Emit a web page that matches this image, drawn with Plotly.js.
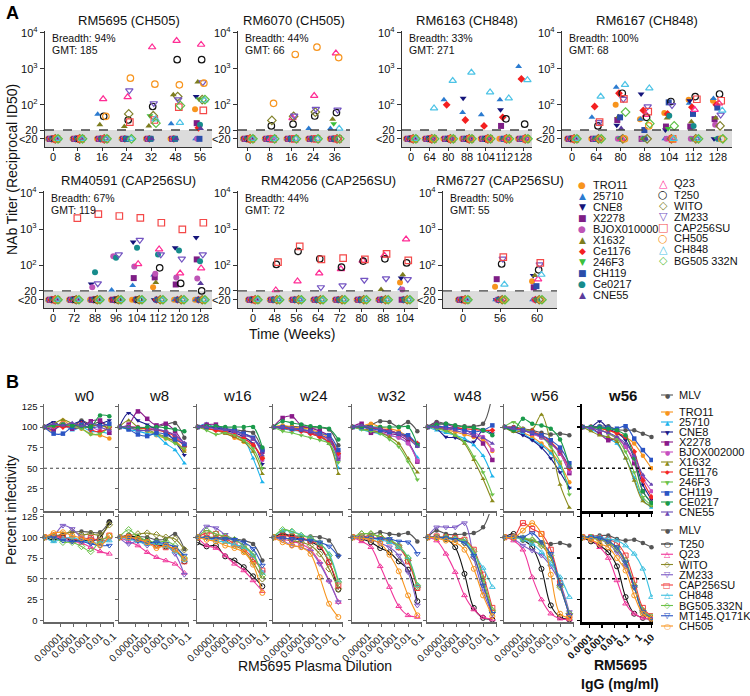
<!DOCTYPE html>
<html><head><meta charset="utf-8">
<script src="https://cdn.plot.ly/plotly-3.0.1.min.js"></script>
<style>body{margin:0;background:#fff}#chart{width:750px;height:696px}</style>
</head><body><div id="chart"></div>
<script>
const W = 750, H = 696;
const FONT = 'Liberation Sans, Arial, Helvetica, sans-serif';

// ================= PANEL A DATA =================
const virusesA = ['TRO11','25710','CNE8','X2278','BJOX010000','X1632','Ce1176','246F3','CH119','Ce0217','CNE55','Q23','T250','WITO','ZM233','CAP256SU','CH505','CH848','BG505 332N'];
const animalNames = ['RM5695 (CH505)','RM6070 (CH505)','RM6163 (CH848)','RM6167 (CH848)','RM40591 (CAP256SU)','RM42056 (CAP256SU)','RM6727 (CAP256SU)'];
const breadthA = ['94%','44%','33%','100%','67%','44%','50%'];
const gmtA = ['185','66','271','68','119','72','55'];

// titers: one row per virus (virusesA order), one column per week; 0 = <20
const weeksRM5695 = [0,8,16,24,32,48,56];
const titerRM5695 = [
 [0,0,0,0,0,0,75],[0,0,55,0,0,30,0],[0,0,0,0,0,0,170],[0,0,0,0,0,0,31],[0,0,0,0,0,0,0],
 [0,0,28,25,26,190,430],[0,0,0,0,0,0,23],[0,0,0,0,50,0,145],[0,0,0,0,0,0,0],[0,0,0,0,0,0,28],
 [0,0,0,0,0,0,22],[0,0,145,165,4000,6000,4700],[0,0,48,38,90,1800,1800],[0,0,0,56,50,170,140],
 [0,0,0,250,110,140,420],[0,0,0,33,38,87,70],[0,0,48,550,375,360,400],[0,0,0,0,40,32,135],[0,0,0,0,31,95,140]];
const weeksRM6070 = [0,8,16,24,36];
const titerRM6070 = [
 [0,0,0,0,0],[0,0,0,22,22],[0,0,0,0,0],[0,0,0,0,0],[0,0,0,0,0],
 [0,0,0,0,40],[0,0,0,0,0],[0,0,0,0,30],[0,0,0,0,0],[0,0,0,0,0],
 [0,0,0,0,0],[0,0,43,178,2700],[0,26,29,49,61],[0,37,48,63,0],
 [0,0,50,77,73],[0,0,0,0,0],[0,110,2500,4000,2050],[0,0,0,0,22],[0,0,0,0,0]];
const weeksRM6163 = [0,64,80,88,104,112,128];
const titerRM6163 = [
 [0,0,0,0,0,0,0],[0,0,138,61,53,138,1160],[0,0,0,153,0,73,0],[0,0,0,0,0,26,0],[0,0,0,0,0,0,0],
 [0,0,0,0,0,0,0],[0,0,100,38,26,45,525],[0,0,0,0,0,0,0],[0,0,0,0,0,0,0],[0,0,0,0,0,0,0],
 [0,0,0,0,0,0,0],[0,0,0,0,0,0,0],[0,0,0,0,0,41,29],[0,0,0,0,0,0,0],
 [0,0,0,0,0,0,0],[0,0,0,0,0,0,0],[0,0,0,0,0,0,0],[0,81,465,790,225,153,490],[0,0,0,0,0,0,0]];
const weeksRM6167 = [0,64,80,88,104,112,128];
const titerRM6167 = [
 [0,0,100,40,59,138,130],[0,45,310,40,0,110,150],[0,0,27,200,20,130,0],[0,0,38,0,25,25,40],[0,0,0,0,0,0,28],
 [0,0,47,0,43,34,43],[0,90,210,70,56,86,100],[0,0,0,0,22,0,0],[0,0,45,20,117,56,84],[0,0,0,0,50,26,0],
 [0,0,22,0,0,0,0],[0,0,0,53,0,73,110],[0,26,210,45,124,170,200],[0,0,0,0,0,0,26],
 [0,33,145,90,97,0,53],[0,33,147,65,0,143,130],[0,0,0,26,0,0,0],[0,170,360,290,0,0,70],[0,0,63,30,26,0,0]];
const weeksRM40591 = [0,72,88,96,104,112,120,128];
const titerRM40591 = [
 [0,0,0,0,0,25,0,0],[0,0,0,21,28,55,0,0],[0,0,31,0,440,0,310,590],[0,0,0,0,45,47,30,147],[0,0,25,180,94,59,47,44],
 [0,0,0,0,0,34,0,0],[0,0,0,0,0,0,0,0],[0,0,0,0,0,0,0,0],[0,0,0,0,0,0,0,0],[0,0,65,163,310,200,260,130],
 [0,0,0,0,0,0,0,32],[0,0,0,0,110,280,61,84],[0,0,0,0,0,86,32,20],[0,0,0,0,0,0,0,0],
 [0,0,32,200,500,200,153,200],[0,2000,2600,2300,2050,1500,980,1500],[0,0,0,0,0,0,0,0],[0,0,0,0,0,0,0,0],[0,0,0,0,0,0,0,0]];
const weeksRM42056 = [0,48,56,64,72,80,88,104];
const titerRM42056 = [
 [0,0,0,0,0,0,0,34],[0,0,0,0,0,0,0,23],[0,0,0,0,0,0,0,45],[0,0,0,0,0,0,0,0],[0,0,0,0,0,0,0,22],
 [0,0,0,0,0,0,22,56],[0,0,0,0,0,0,0,0],[0,0,0,0,0,0,0,0],[0,0,0,0,0,0,0,0],[0,0,0,0,0,0,0,0],
 [0,0,0,0,0,0,0,0],[0,21,37,61,80,138,190,525],[0,107,245,153,90,132,153,118],[0,0,0,0,0,0,0,0],
 [0,0,0,25,28,40,44,42],[0,124,335,147,160,147,210,138],[0,0,0,0,0,0,0,0],[0,0,0,0,0,0,0,0],[0,0,0,0,0,0,0,0]];
const weeksRM6727 = [0,56,60];
const titerRM6727 = [
 [0,26,37],[0,0,0],[0,0,53],[0,42,25],[0,0,0],
 [0,0,53],[0,0,0],[0,0,0],[0,0,27],[0,0,0],
 [0,0,0],[0,0,42],[0,110,76],[0,0,0],
 [0,153,107],[0,170,118],[0,0,0],[0,30,56],[0,0,0]];

// ================= PANEL B DATA =================
const dilution = [6.4e-7, 3.2e-6, 1.6e-5, 8e-5, 4e-4, 2e-3, 1e-2, 5e-2];
const iggConc = [2.56e-5, 1.28e-4, 6.4e-4, 3.2e-3, 0.016, 0.08, 0.4, 2, 10];
const dilTicks = [1e-5, 1e-4, 1e-3, 1e-2, 0.1];
const dilTickText = ['0.00001','0.0001','0.001','0.01','0.1'];
const iggTicks = [1e-4, 1e-3, 1e-2, 0.1, 1, 10];
const iggTickText = ['0.0001','0.001','0.01','0.1','1','10'];
const weekTitlesB = ['w0','w8','w16','w24','w32','w48','w56','w56'];
const virusesB1 = ['MLV','TRO11','25710','CNE8','X2278','BJOX002000','X1632','CE1176','246F3','CH119','CE0217','CNE55'];
const virusesB2 = ['MLV','T250','Q23','WITO','ZM233','CAP256SU','CH848','BG505.332N','MT145.Q171K','CH505'];

// percent infectivity, rows in virusesB1 order
const topW0 = [[100,100,105,100,108,103,106,100],[100,95,108,100,98,92,90,86],[100,97,103,96,100,95,94,92],[100,106,100,103,107,101,104,108],
 [100,97,103,98,100,107,108,93],[100,100,104,101,101,100,96,97],[100,104,109,104,99,101,102,98],[100,101,100,101,104,97,94,100],
 [100,101,104,100,98,91,92,100],[100,92,92,100,103,99,101,104],[100,102,103,102,101,100,114,113],[100,104,102,105,101,105,100,96]];
const topW8 = [[100,100,99,98,100,103,105,87],[100,99,97,95,90,86,83,72],[100,97,95,92,90,80,72,56],[100,117,108,103,97,94,82,66],
 [100,103,119,110,102,104,95,78],[100,101,100,99,97,95,90,77],[100,108,100,97,92,88,82,70],[100,100,99,98,96,94,88,76],
 [100,99,97,95,92,86,80,74],[100,97,91,89,93,91,85,79],[100,100,99,100,100,99,97,95],[100,100,96,96,97,95,90,81]];
const topW16 = [[100,100,99,98,97,95,93,72],[100,101,98,93,87,82,78,63],[100,104,98,95,90,85,62,33],[100,100,99,96,93,88,80,55],
 [100,103,103,97,95,92,86,70],[100,99,97,95,91,86,78,60],[100,98,96,92,88,82,70,43],[100,98,96,94,90,86,78,62],
 [100,96,91,93,90,84,74,50],[100,100,100,98,96,92,87,72],[100,101,101,100,100,100,100,75],[100,100,98,97,95,90,86,66]];
const topW24 = [[100,100,101,100,99,99,97,78],[100,102,100,99,97,93,87,70],[100,98,96,95,92,88,80,50],[100,98,98,97,93,90,85,66],
 [100,111,113,102,99,95,89,63],[100,99,98,96,94,90,84,65],[100,100,99,97,95,90,80,43],[100,99,97,95,92,88,82,68],
 [100,95,93,90,87,84,80,57],[100,100,98,97,95,92,90,72],[100,107,105,103,101,100,98,85],[100,100,99,97,95,91,85,60]];
const topW32 = [[100,100,103,107,106,100,106,95],[100,101,104,100,98,95,88,77],[100,97,94,92,90,87,80,63],[100,100,99,97,95,92,88,80],
 [100,104,93,95,92,90,82,58],[100,100,97,94,90,87,80,59],[100,98,96,93,88,80,62,45],[100,100,99,98,96,92,87,80],
 [100,97,95,92,85,76,58,36],[100,100,98,96,94,92,90,78],[100,101,100,100,100,100,100,78],[100,102,100,98,95,92,86,76]];
const topW48 = [[100,106,104,102,101,101,104,140],[100,99,97,94,91,88,85,71],[100,96,93,90,86,78,65,40],[100,98,88,87,83,82,96,92],
 [100,104,103,100,97,90,80,60],[100,102,99,98,96,93,88,72],[100,99,96,90,80,60,37,10],[100,100,99,99,98,97,96,96],
 [100,98,95,90,82,64,45,18],[100,101,100,98,96,94,96,102],[100,103,104,102,100,99,96,90],[100,100,98,96,93,90,87,80]];
const topW56 = [[100,100,98,96,93,91,92,90],[100,98,93,88,80,70,55,33],[100,97,92,85,78,68,52,26],[100,95,90,84,75,62,45,26],
 [100,98,96,92,88,80,68,44],[100,99,96,92,87,80,68,46],[100,94,96,97,115,80,30,2],[100,99,97,95,90,82,70,50],
 [100,106,98,94,88,76,58,18],[100,98,96,93,90,84,75,56],[100,96,110,104,102,98,85,52],[100,98,96,93,88,80,70,52]];
const topIgG = [[100,100,101,101,97,96,96,92,88],[100,100,98,96,92,88,80,65,50],[100,97,92,86,80,62,38,12,2],[100,100,107,98,93,84,62,30,12],
 [100,99,92,84,86,76,56,22,8],[100,99,97,92,86,76,60,38,22],[100,95,90,88,82,62,35,10,4],[100,100,99,96,93,88,70,35,15],
 [100,99,97,92,86,70,45,15,5],[100,100,100,99,98,101,86,72,60],[100,100,99,98,96,90,62,22,8],[100,99,96,93,88,80,65,42,30]];
// rows in virusesB2 order
const botW0 = [[100,100,104,106,107,106,106,119],[100,97,100,96,97,95,100,118],[100,101,98,95,93,88,83,80],[100,102,103,107,103,104,103,115],
 [100,102,114,110,100,98,95,98],[100,102,100,98,97,99,96,102],[100,95,98,100,96,94,93,96],[100,100,94,94,89,83,96,101],
 [100,100,96,95,95,92,90,90],[100,105,106,102,99,96,90,102]];
const botW8 = [[100,100,101,100,97,98,104,86],[100,102,99,96,91,89,85,71],[100,95,90,82,76,72,68,57],[100,102,104,105,103,100,98,85],
 [100,92,96,90,93,90,80,55],[100,100,97,94,90,88,86,71],[100,98,95,92,93,89,83,72],[100,109,100,96,94,95,90,75],
 [100,99,96,93,94,92,88,78],[100,100,98,94,87,90,85,74]];
const botW16 = [[100,100,100,99,98,96,92,72],[94,89,90,77,72,64,53,41],[100,90,87,78,68,60,48,35],[100,100,99,96,90,84,70,50],
 [100,113,111,103,97,90,78,58],[100,105,104,99,92,86,74,60],[100,99,96,94,91,88,78,57],[100,108,104,101,97,90,80,54],
 [100,99,98,98,97,94,86,66],[100,97,95,90,87,82,67,33]];
const botW24 = [[100,104,102,101,101,100,96,78],[100,104,100,98,95,88,70,37],[100,98,95,92,85,70,48,22],[100,100,96,94,90,80,62,38],
 [100,96,90,88,83,68,47,22],[100,102,101,99,96,90,70,42],[100,108,107,103,99,93,80,48],[100,109,107,102,99,93,78,46],
 [100,99,98,97,96,94,89,77],[100,94,90,88,80,52,20,4]];
const botW32 = [[100,100,103,106,104,103,105,95],[100,98,94,87,82,71,61,23],[100,95,88,65,40,17,6,4],[100,104,104,101,97,88,72,40],
 [100,99,97,93,88,78,58,18],[100,101,100,98,95,88,71,39],[100,100,99,97,94,88,76,42],[100,104,104,100,97,90,75,42],
 [100,100,99,98,98,95,94,80],[100,99,97,93,79,59,30,6]];
const botW48 = [[100,108,104,103,104,105,112,140],[100,100,98,88,56,15,3,1],[100,96,80,58,30,13,4,1],[100,100,99,97,93,76,45,10],
 [100,112,112,112,117,75,35,8],[100,101,100,99,97,85,55,15],[100,100,99,98,95,80,63,40],[100,100,100,98,96,83,50,12],
 [100,100,99,97,93,78,42,8],[100,99,96,94,85,62,30,5]];
const botW56 = [[100,100,98,95,94,92,93,90],[100,104,97,88,62,18,4,1],[100,96,85,52,25,8,2,1],[100,100,98,96,90,75,40,8],
 [100,98,90,84,78,65,45,10],[100,100,117,110,104,85,45,5],[100,100,97,92,82,68,52,28],[100,100,99,97,92,78,42,8],
 [100,101,100,105,94,80,42,6],[100,100,108,117,104,55,8,3]];
const botIgG = [[100,101,102,102,98,96,97,93,88],[100,95,90,82,65,28,8,3,1],[100,97,88,75,48,20,8,3,2],[100,99,97,93,85,68,40,10,3],
 [100,100,98,92,82,65,40,12,3],[100,100,99,97,93,78,48,15,5],[100,100,100,98,96,90,80,62,28],[100,100,98,94,87,72,42,12,4],
 [100,100,99,95,88,70,40,10,3],[100,97,92,88,75,60,30,8,2]];

// ================= STYLES =================
const symA = ['circle','triangle-up','triangle-down','square','circle','triangle-up','diamond','triangle-down','square','circle','triangle-up',
  'triangle-up-open','circle-open','diamond-open','triangle-down-open','square-open','circle-open','triangle-up-open','diamond-open'];
const colA = ['#F7941D','#2B7BD0','#14147A','#7E1E86','#BE55B6','#7D7D1E','#F42020','#3CC03C','#2A4DAA','#168C8C','#5A3C9C',
  '#FF2D95','#111111','#80802A','#7455C2','#F44848','#F7941D','#4CC3E6','#5CBF45'];
const symB1 = ['circle','circle','triangle-up','triangle-down','square','circle','triangle-up','diamond','triangle-down','square','circle','triangle-up'];
const colB1 = ['#555555','#F7941D','#1DB3EC','#1A1A8A','#8A1A8A','#C64FC0','#8A8A1A','#F42525','#6CC24A','#2B55C4','#1A9A4A','#6B49B3'];
const symB2 = ['circle','circle-open','triangle-up-open','diamond-open','triangle-down-open','square-open','triangle-up-open','diamond-open','triangle-down-open','circle-open'];
const colB2 = ['#555555','#111111','#F0359A','#8A8A2A','#7E5CC6','#F03C3C','#3CC0E0','#6BC24A','#2B55C4','#F7941D'];
const glyph = {'circle':'●','triangle-up':'▲','triangle-down':'▼','square':'■','diamond':'◆','circle-open':'○',
  'triangle-up-open':'△','triangle-down-open':'▽','square-open':'□','diamond-open':'◇'};

// ================= LAYOUT HELPERS =================
const layout = {width:W, height:H, margin:{l:0,r:0,t:0,b:0}, showlegend:false,
  paper_bgcolor:'#ffffff', plot_bgcolor:'rgba(0,0,0,0)', font:{family:FONT, size:11, color:'#111'},
  annotations:[], shapes:[]};
const traces = [];
let nAx = 0;
function axes(px0, px1, py0, py1, xo, yo){
  nAx++;
  const s = nAx === 1 ? '' : String(nAx);
  layout['xaxis'+s] = Object.assign({domain:[px0/W, px1/W], anchor:'y'+s}, xo);
  layout['yaxis'+s] = Object.assign({domain:[1-py1/H, 1-py0/H], anchor:'x'+s}, yo);
  return {xa:'x'+s, ya:'y'+s};
}
function ann(x, y, text, o){
  layout.annotations.push(Object.assign({xref:'paper', yref:'paper', x:x/W, y:1-y/H, text:text, showarrow:false,
    xanchor:'center', yanchor:'middle', font:{family:FONT, size:12, color:'#111'}}, o||{}));
}
function isOpen(s){ return s.indexOf('open') >= 0; }

// ================= PANEL A =================
const LOD_Y = 11.4;      // plotted position of "<20"
const yRangeA = [0.83, 4.05];
const frac20 = (Math.log10(20) - yRangeA[0]) / (yRangeA[1] - yRangeA[0]);
const weeksA = [weeksRM5695, weeksRM6070, weeksRM6163, weeksRM6167, weeksRM40591, weeksRM42056, weeksRM6727];
const titersA = [titerRM5695, titerRM6070, titerRM6163, titerRM6167, titerRM40591, titerRM42056, titerRM6727];
const boxA = [
  {x0:45, x1:212, y0:31, y1:147, r:[-0.33,6.49]},
  {x0:238, x1:350, y0:31, y1:147, r:[-0.46,4.70]},
  {x0:402, x1:532, y0:31, y1:147, r:[-0.48,6.48]},
  {x0:562, x1:732, y0:31, y1:147, r:[-0.41,6.58]},
  {x0:44, x1:212, y0:191, y1:308, r:[-0.43,7.57]},
  {x0:238, x1:418, y0:191, y1:308, r:[-0.69,7.60]},
  {x0:443, x1:557, y0:191, y1:308, r:[-0.54,2.54]}];
const JIT_PX = 0.55;

boxA.forEach((b, a) => {
  const wk = weeksA[a];
  const ax = axes(b.x0, b.x1, b.y0, b.y1,
    {range:b.r, tickvals:wk.map((w,i)=>i), ticktext:wk.map(String), tickangle:0, showline:true, linecolor:'#333', linewidth:1.2,
     ticks:'outside', ticklen:3, tickcolor:'#333', ticklabelstandoff:-3, showgrid:false, zeroline:false,
     tickfont:{size:11, color:'#111'}},
    {type:'log', range:yRangeA, tickvals:[LOD_Y,20,100,1000,10000],
     ticktext:['<20','20','10<sup>2</sup>','10<sup>3</sup>','10<sup>4</sup>'],
     showline:true, linecolor:'#333', linewidth:1.2, ticks:'outside', ticklen:4, tickcolor:'#333',
     showgrid:false, zeroline:false, tickfont:{size:11, color:'#111'}});
  layout.shapes.push({type:'rect', xref:ax.xa+' domain', yref:ax.ya+' domain', x0:0, x1:1, y0:0, y1:frac20,
    fillcolor:'#dcdcdc', line:{width:0}, layer:'below'});
  layout.shapes.push({type:'line', xref:ax.xa+' domain', yref:ax.ya+' domain', x0:0, x1:1, y0:frac20, y1:frac20,
    line:{color:'#444', width:1.4, dash:'dash'}});
  const pxPerCat = (b.x1 - b.x0) / (b.r[1] - b.r[0]);
  titersA[a].forEach((row, v) => {
    const off = (v - 9) * JIT_PX / pxPerCat;
    traces.push({type:'scatter', mode:'markers', xaxis:ax.xa, yaxis:ax.ya, cliponaxis:false, hoverinfo:'skip',
      x: wk.map((w,i) => i + off), y: row.map(t => t > 0 ? t : LOD_Y),
      marker:{symbol:symA[v], size: isOpen(symA[v]) ? 6.5 : 6, color:colA[v],
        line:{width: isOpen(symA[v]) ? 1.2 : 0, color:colA[v]}}});
  });
  ann((b.x0+b.x1)/2, b.y0 - 10, animalNames[a], {font:{family:FONT, size:13, color:'#111'}});
  ann(b.x0 + 5, b.y0 + 7, 'Breadth: ' + breadthA[a], {xanchor:'left', font:{family:FONT, size:10.5, color:'#111'}});
  ann(b.x0 + 5, b.y0 + 19, 'GMT: ' + gmtA[a], {xanchor:'left', font:{family:FONT, size:10.5, color:'#111'}});
});
ann(4, 13, '<b>A</b>', {xanchor:'left', font:{family:FONT, size:18, color:'#000'}});
ann(12, 170, 'NAb Titer (Reciprocal ID50)', {textangle:-90, font:{family:FONT, size:14, color:'#111'}});
ann(292, 334, 'Time (Weeks)', {font:{family:FONT, size:14, color:'#111'}});
// Panel A legend
virusesA.forEach((v, i) => {
  const col = i < 11 ? 0 : 1;
  const k = i < 11 ? i : i - 11;
  const gx = col === 0 ? 582 : 663;
  const y = (col === 0 ? 185 : 183.5) + 11 * k;
  ann(gx, y, glyph[symA[i]], {font:{family:'DejaVu Sans', size: isOpen(symA[i]) ? 11 : 9, color:colA[i]}});
  ann(gx + 9, y, v, {xanchor:'left', font:{family:FONT, size:11, color:'#111'}});
});

// ================= PANEL B =================
const colLeft = [44,119,197,273,352,427,504,582];
const colW = 70;
const topData = [topW0, topW8, topW16, topW24, topW32, topW48, topW56, topIgG];
const botData = [botW0, botW8, botW16, botW24, botW32, botW48, botW56, botIgG];
const rowsB = [{y0:404, y1:511}, {y0:514, y1:622}];

colLeft.forEach((lx, c) => {
  const igg = c === 7;
  const xv = igg ? iggConc : dilution;
  [0,1].forEach(r => {
    const axc = igg ? '#000' : '#666';
    const ax = axes(lx, lx + colW + (igg ? 1 : 0), rowsB[r].y0, rowsB[r].y1,
      {type:'log', range: igg ? [-4.62, 1.12] : [-6.22, -0.95], tickvals: igg ? iggTicks : dilTicks,
       ticktext: igg ? iggTickText : dilTickText, tickangle:-45, showticklabels: r === 1,
       ticks:'outside', ticklen:3, tickcolor:axc, tickwidth: igg ? 1.5 : 1, showline:true, linecolor:axc,
       linewidth: igg ? 2.5 : 1.5, showgrid:false, zeroline:false,
       tickfont:{size:10, color:'#111', weight: igg ? 'bold' : 'normal'}},
      {range:[-2, 128], tickvals:[0,25,50,75,100,125], showticklabels: c === 0, ticks:'outside', ticklen:3,
       tickcolor:axc, tickwidth: igg ? 1.5 : 1, showline:true, linecolor:axc, linewidth: igg ? 2.5 : 1.5,
       showgrid:false, zeroline:false, tickfont:{size:9.5, color:'#111'}});
    layout.shapes.push({type:'line', xref:ax.xa+' domain', yref:ax.ya, x0:0, x1:1, y0:50, y1:50,
      line:{color: igg ? '#111' : '#444', width: igg ? 1.6 : 1.1, dash:'dot'}});
    const data = r === 0 ? topData[c] : botData[c];
    const sym = r === 0 ? symB1 : symB2;
    const col = r === 0 ? colB1 : colB2;
    data.forEach((row, v) => {
      traces.push({type:'scatter', mode:'lines+markers', xaxis:ax.xa, yaxis:ax.ya, hoverinfo:'skip',
        cliponaxis: v !== 0, x: xv, y: row,
        line:{shape:'spline', smoothing:1, color:col[v], width:1.1},
        marker:{symbol:sym[v], size: isOpen(sym[v]) ? 5 : 4.5, color:col[v],
          line:{width: isOpen(sym[v]) ? 1 : 0, color:col[v]}}});
    });
  });
  ann(lx + colW/2 + 5, 395, igg ? '<b>' + weekTitlesB[c] + '</b>' : weekTitlesB[c], {font:{family:FONT, size:15, color:'#111'}});
});
ann(4, 382, '<b>B</b>', {xanchor:'left', font:{family:FONT, size:18, color:'#000'}});
ann(11, 510, 'Percent infectivity', {textangle:-90, font:{family:FONT, size:14, color:'#111'}});
ann(315, 666, 'RM5695 Plasma Dilution', {font:{family:FONT, size:14, color:'#111'}});
ann(620, 665, '<b>RM5695</b>', {font:{family:FONT, size:14, color:'#111'}});
ann(620, 684, '<b>IgG (mg/ml)</b>', {font:{family:FONT, size:14, color:'#111'}});

// Panel B legends
function keyB(y, name, color, sym){
  layout.shapes.push({type:'line', xref:'paper', yref:'paper', x0:661/W, x1:673/W, y0:1-y/H, y1:1-y/H,
    line:{color:color, width:1.1}});
  ann(667, y, glyph[sym], {font:{family:'DejaVu Sans', size: isOpen(sym) ? 8 : 6, color:color}});
  ann(677, y, name, {xanchor:'left', font:{family:FONT, size:11, color:'#111'}});
}
virusesB1.forEach((v, i) => keyB(i === 0 ? 395 : 412 + 10 * (i - 1), v, colB1[i], symB1[i]));
virusesB2.forEach((v, i) => keyB(i === 0 ? 530 : 544 + 10.25 * (i - 1), v, colB2[i], symB2[i]));

Plotly.newPlot('chart', traces, layout, {staticPlot:true, displayModeBar:false});
</script>
</body></html>
